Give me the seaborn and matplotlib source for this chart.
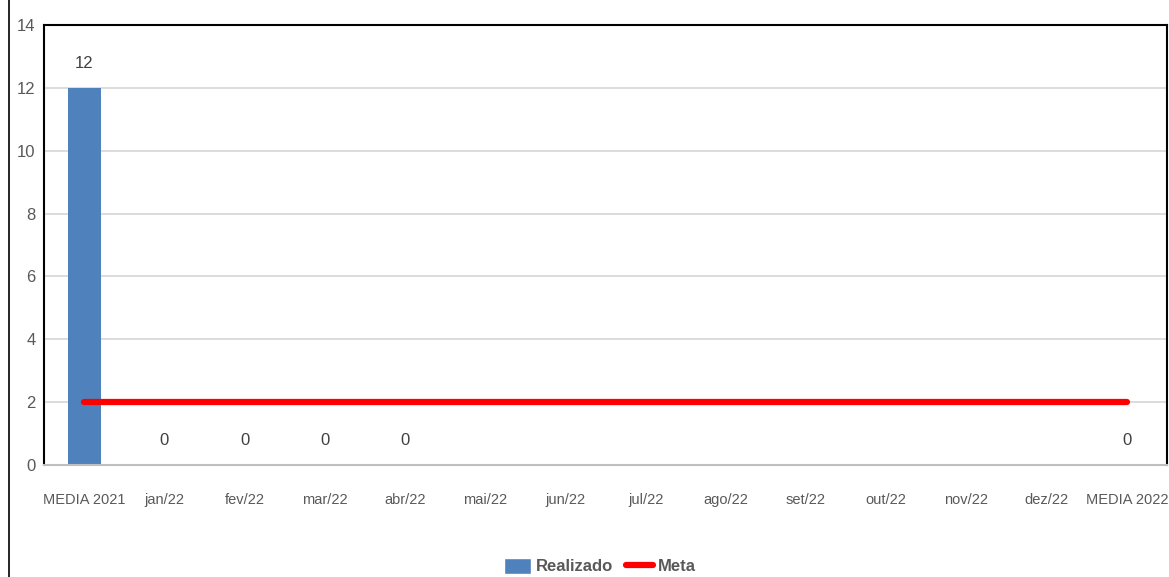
import numpy as np
import pandas as pd
import matplotlib
matplotlib.use("Agg")
import matplotlib.pyplot as plt
import seaborn as sns
from matplotlib.lines import Line2D
from matplotlib.patches import Patch

categories = ["MEDIA 2021", "jan/22", "fev/22", "mar/22", "abr/22", "mai/22", "jun/22",
              "jul/22", "ago/22", "set/22", "out/22", "nov/22", "dez/22", "MEDIA 2022"]
realizado = [12, 0, 0, 0, 0, np.nan, np.nan, np.nan, np.nan, np.nan, np.nan, np.nan, np.nan, 0]
meta = [2] * 14
y_ticks = [0, 2, 4, 6, 8, 10, 12, 14]

sns.set_style("white")
plt.rcParams['font.family'] = ['Liberation Sans', 'DejaVu Sans']
text_color = "#595959"

df = pd.DataFrame({"cat": categories, "Realizado": realizado, "Meta": meta})

fig = plt.figure(figsize=(11.69, 5.77), dpi=100)
ax = fig.add_axes([44/1169, 1 - 465/577, (1167-44)/1169, (465-25)/577])

sns.barplot(data=df, x="cat", y="Realizado", color="#4F81BD", saturation=1,
            width=0.41, ax=ax, order=categories, edgecolor="none")
ax.plot(np.arange(len(categories)), df["Meta"], color="#FF0000", lw=4.5,
        solid_capstyle="round", zorder=4)

for i, v in enumerate(realizado):
    if not np.isnan(v):
        ax.text(i, v + 0.55, f"{int(v)}", ha="center", va="bottom",
                fontsize=12, color="#404040")

ax.set_xlim(-0.5, len(categories) - 0.5)
ax.set_ylim(0, 14)
ax.set_yticks(y_ticks)
ax.set_yticklabels([str(t) for t in y_ticks])
ax.yaxis.grid(True, color="#D9D9D9", lw=1.3)
ax.set_axisbelow(True)
ax.set_xlabel("")
ax.set_ylabel("")
ax.tick_params(axis="both", length=0, colors=text_color)
ax.tick_params(axis="x", pad=20, labelsize=10.5)
ax.tick_params(axis="y", pad=6, labelsize=12)

for s in ["top", "left", "right"]:
    ax.spines[s].set_color("black")
    ax.spines[s].set_linewidth(1.5)
ax.spines["bottom"].set_color("#BFBFBF")
ax.spines["bottom"].set_linewidth(1.5)

fig.add_artist(Line2D([9/1169, 9/1169], [0, 1], color="black", lw=1.2,
                      transform=fig.transFigure))

handles = [Patch(facecolor="#4F81BD", label="Realizado"),
           Line2D([0], [0], color="#FF0000", lw=4.5, solid_capstyle="round", label="Meta")]
leg = fig.legend(handles=handles, loc="center", bbox_to_anchor=(600/1169, 1 - 566/577),
                 ncol=2, frameon=False, handlelength=1.6, handleheight=1.1, handletextpad=0.3,
                 columnspacing=0.8, prop={"weight": "bold", "size": 12})
for t in leg.get_texts():
    t.set_color(text_color)

fig.savefig("out.png", dpi=100)
